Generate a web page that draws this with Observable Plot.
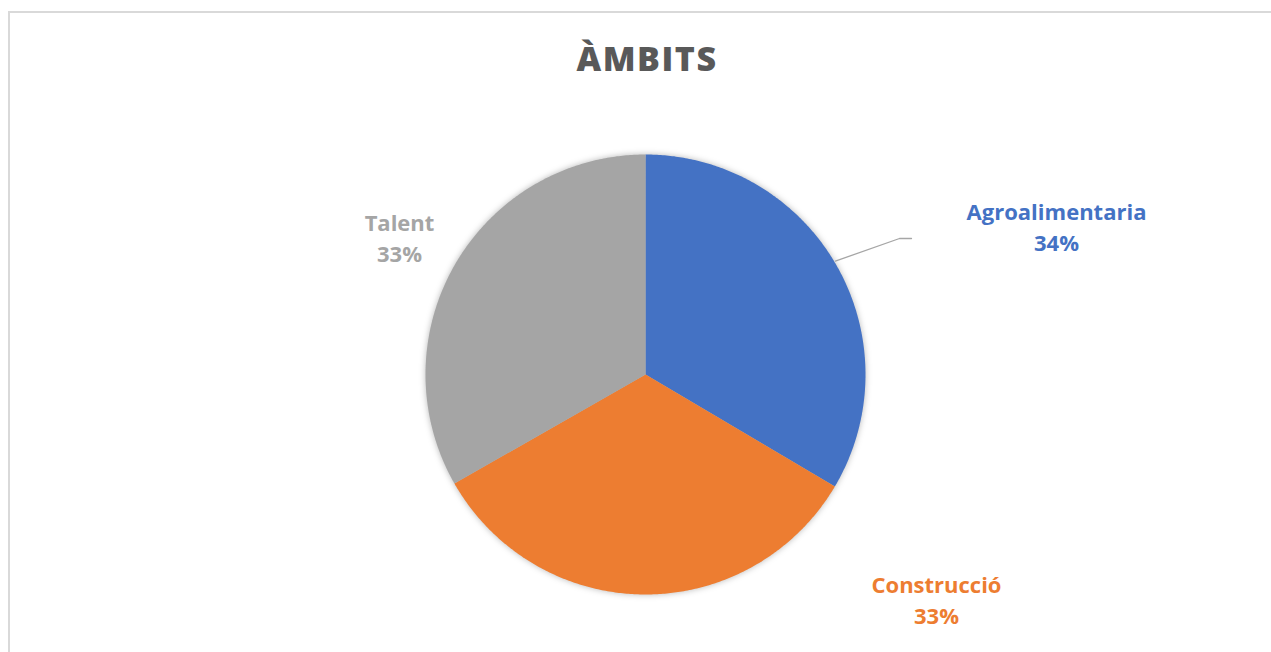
<!DOCTYPE html>
<html>
<head>
<meta charset="utf-8">
<script src="https://cdn.jsdelivr.net/npm/d3@7"></script>
<script src="https://cdn.jsdelivr.net/npm/@observablehq/plot@0.6"></script>
<style>
  html, body { margin: 0; padding: 0; background: #fff; overflow: hidden; width: 1271px; height: 652px; }
  #wrap { position: relative; width: 1271px; height: 652px; }
  #frame { position: absolute; left: 8px; top: 11px; width: 3000px; height: 3000px;
           border-left: 2px solid #D9D9D9; border-top: 2px solid #D9D9D9; pointer-events: none; }
  #chart svg { display: block; }
  #chart g.slices { filter: drop-shadow(0 0 3px rgba(0,0,0,0.28)); }
  #chart g.title text { letter-spacing: 1.5px; }
</style>
</head>
<body>
<div id="wrap"><div id="chart"></div><div id="frame"></div></div>
<script>
// ---- data ----
const title = "ÀMBITS";
const categories = ["Agroalimentaria", "Construcció", "Talent"];
const shares = [33.5, 33.25, 33.25];
const colors = ["#4472C4", "#ED7D31", "#A5A5A5"];

// ---- layout ----
const W = 1271, H = 652, CX = 645, CY = 374, R = 220;
const labelCenters = [[1056, 225], [936, 598], [399, 236]]; // pixel centre of each two-line label
const leaderElbow = [[899, 238], [911, 238]];

const px = (p) => (p - CX) / R;
const py = (p) => (CY - p) / R;

const total = d3.sum(shares);
const arcs = d3.pie().sort(null).value(d => d)(shares);

const slicePts = [];
arcs.forEach((a, i) => {
  const name = categories[i];
  slicePts.push({name, x: 0, y: 0});
  const n = Math.max(2, Math.ceil((a.endAngle - a.startAngle) / (Math.PI / 360)));
  for (let k = 0; k <= n; k++) {
    const t = a.startAngle + (a.endAngle - a.startAngle) * k / n;
    slicePts.push({name, x: Math.sin(t), y: Math.cos(t)});
  }
  slicePts.push({name, x: 0, y: 0});
});

const labels = categories.map((c, i) => ({
  name: c,
  text: c + "\n" + Math.round(shares[i] * 100 / total) + "%",
  x: px(labelCenters[i][0]),
  y: py(labelCenters[i][1]),
  color: colors[i]
}));

// leader line for the first slice
const mid0 = (arcs[0].startAngle + arcs[0].endAngle) / 2 - 0.02;
const leader = [
  {x: Math.sin(mid0) * 1.005, y: Math.cos(mid0) * 1.005},
  {x: px(leaderElbow[0][0]), y: py(leaderElbow[0][1])},
  {x: px(leaderElbow[1][0]), y: py(leaderElbow[1][1])}
];

const plot = Plot.plot({
  width: W, height: H,
  margin: 0,
  x: {domain: [px(0), px(W)], axis: null},
  y: {domain: [py(H), py(0)], axis: null},
  color: {domain: categories, range: colors},
  style: {fontFamily: "'Open Sans', Lato, sans-serif", background: "transparent"},
  marks: [
    Plot.line(slicePts, {x: "x", y: "y", z: "name", fill: "name", stroke: "none", curve: "linear-closed"}),
    Plot.line(leader, {x: "x", y: "y", stroke: "#A6A6A6", strokeWidth: 1.3}),
    Plot.text(labels, {x: "x", y: "y", text: "text", fill: "color", fontSize: 22, fontWeight: "bold", lineHeight: 31/22, textAnchor: "middle"}),
    Plot.text([title], {frameAnchor: "top", dy: 60, lineAnchor: "middle", text: d => d, fontSize: 34, fontWeight: 800, fill: "#595959", dx: 11, className: "title"})
  ]
});
const g0 = plot.querySelector('g[aria-label="line"]');
if (g0) g0.classList.add("slices");
document.getElementById("chart").appendChild(plot);
</script>
</body>
</html>
